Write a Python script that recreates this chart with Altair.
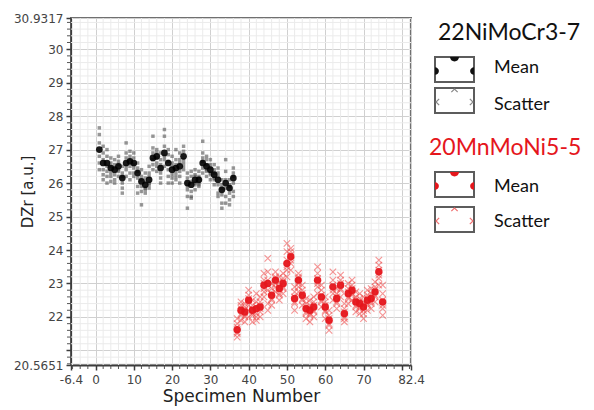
import altair as alt
import pandas as pd
import numpy as np

# ---------------- data ----------------
black_ids = list(range(1, 37))
black_mean = [27.0, 26.6, 26.6, 26.45, 26.4, 26.5, 26.15, 26.6, 26.65, 26.6,
              26.3, 26.05, 25.95, 26.1, 26.75, 26.8, 26.45, 26.9, 26.6, 26.4,
              26.45, 26.5, 26.8, 26.0, 25.95, 26.1, 26.1, 26.6, 26.5, 26.4,
              26.25, 26.1, 25.8, 26.0, 25.85, 26.15]
black_scatter = [
    [27.65, 27.45, 27.2, 26.8, 26.6, 26.4],
    [27.1, 26.9, 26.7, 26.4, 26.25, 26.1],
    [27.0, 26.8, 26.5, 26.35, 26.2, 26.0],
    [26.75, 26.6, 26.3, 26.2, 26.05, 26.5],
    [26.7, 26.55, 26.25, 26.1, 26.0, 26.45],
    [26.8, 26.65, 26.35, 26.2, 26.55, 26.4],
    [26.5, 26.3, 26.0, 25.85, 25.7, 26.2],
    [27.2, 26.9, 26.75, 26.4, 26.2, 26.5],
    [26.95, 26.8, 26.5, 26.3, 26.1, 26.7],
    [26.9, 26.75, 26.45, 26.3, 26.55, 26.2],
    [26.6, 26.45, 26.15, 25.9, 25.7, 26.35],
    [26.4, 26.2, 25.9, 25.75, 25.35, 26.1],
    [26.3, 26.15, 25.8, 25.7, 25.85, 26.05],
    [26.5, 26.3, 25.95, 25.85, 26.2, 26.0],
    [27.4, 27.05, 26.9, 26.55, 26.4, 26.7],
    [27.0, 26.9, 26.6, 26.5, 26.35, 26.75],
    [26.9, 26.7, 26.3, 26.15, 26.0, 26.55],
    [27.6, 27.4, 27.1, 26.7, 26.5, 26.8],
    [27.0, 26.85, 26.4, 26.2, 26.0, 26.65],
    [26.8, 26.6, 26.25, 26.0, 26.15, 26.5],
    [27.0, 26.7, 26.3, 26.1, 26.55, 26.2],
    [26.9, 26.7, 26.35, 26.2, 26.6, 26.0],
    [27.1, 26.95, 26.6, 26.4, 26.7, 26.5],
    [26.3, 26.15, 25.8, 25.6, 25.25, 25.9],
    [26.35, 26.2, 25.75, 25.55, 25.6, 26.05],
    [26.4, 26.25, 25.95, 25.8, 26.2, 26.0],
    [26.35, 26.2, 25.95, 25.9, 26.15, 26.0],
    [27.25, 26.9, 26.75, 26.45, 26.3, 26.65],
    [26.8, 26.7, 26.35, 26.2, 26.55, 26.4],
    [26.7, 26.55, 26.25, 26.1, 26.45, 26.3],
    [26.55, 26.4, 26.1, 25.95, 26.3, 26.15],
    [26.45, 26.3, 25.95, 25.7, 25.6, 26.2],
    [26.1, 25.95, 25.65, 25.4, 25.25, 25.85],
    [26.7, 26.35, 25.85, 25.6, 25.4, 26.1],
    [26.1, 25.95, 25.7, 25.5, 25.35, 25.9],
    [26.45, 26.3, 26.0, 25.75, 25.6, 26.2],
]

red_ids = list(range(37, 76))
red_mean = [21.62, 22.2, 22.15, 22.5, 22.2, 22.25, 22.3, 22.95, 23.0, 22.65,
            23.1, 22.85, 23.0, 23.6, 23.8, 22.55, 23.1, 22.65, 22.25, 22.2,
            22.3, 23.1, 22.6, 22.3, 21.9, 22.9, 22.55, 22.95, 22.1, 22.7,
            22.8, 22.45, 22.4, 22.3, 22.5, 22.55, 22.75, 23.35, 22.45]
red_scatter = [
    [21.95, 21.8, 21.5, 21.4, 21.7, 21.55],
    [22.45, 22.35, 22.05, 21.9, 22.25, 22.1],
    [22.4, 22.3, 22.0, 21.85, 22.2, 22.05],
    [22.8, 22.65, 22.35, 22.2, 22.55, 22.0],
    [22.5, 22.35, 22.05, 21.85, 22.25, 22.1],
    [22.7, 22.45, 22.1, 21.9, 22.3, 22.0],
    [22.6, 22.45, 22.15, 22.0, 22.35, 22.25],
    [23.3, 23.1, 22.75, 22.6, 23.0, 22.85],
    [23.75, 23.35, 22.8, 22.4, 22.2, 23.1],
    [23.0, 22.85, 22.5, 22.35, 22.7, 22.55],
    [23.35, 23.2, 22.9, 22.75, 23.15, 23.0],
    [23.2, 23.05, 22.7, 22.5, 22.9, 22.65],
    [23.3, 23.15, 22.85, 22.7, 23.05, 22.9],
    [24.2, 23.95, 23.4, 23.2, 23.7, 23.5],
    [24.05, 23.95, 23.6, 23.4, 23.85, 23.7],
    [22.9, 22.75, 22.4, 22.2, 22.6, 22.45],
    [23.3, 23.2, 22.9, 22.75, 23.15, 23.0],
    [22.95, 22.8, 22.5, 22.35, 22.7, 22.55],
    [22.55, 22.4, 22.1, 21.95, 22.3, 22.15],
    [22.5, 22.35, 22.05, 21.85, 22.25, 22.1],
    [22.6, 22.45, 22.15, 22.0, 22.35, 22.2],
    [23.5, 23.3, 22.9, 22.7, 23.15, 23.0],
    [22.95, 22.8, 22.45, 22.3, 22.65, 22.5],
    [22.6, 22.45, 22.15, 21.95, 22.35, 22.2],
    [22.2, 22.05, 21.75, 21.6, 21.95, 21.8],
    [23.35, 23.1, 22.7, 22.5, 22.95, 22.8],
    [22.85, 22.7, 22.4, 22.25, 22.6, 22.45],
    [23.25, 23.1, 22.8, 22.6, 23.0, 22.85],
    [22.4, 22.25, 21.95, 21.85, 22.15, 22.0],
    [23.0, 22.85, 22.55, 22.4, 22.75, 22.6],
    [23.1, 22.95, 22.65, 22.5, 22.85, 22.7],
    [22.75, 22.6, 22.3, 22.15, 22.5, 22.35],
    [22.7, 22.55, 22.25, 22.1, 22.45, 22.3],
    [22.6, 22.45, 22.1, 21.95, 22.35, 22.2],
    [22.8, 22.65, 22.35, 22.2, 22.55, 22.4],
    [22.85, 22.7, 22.4, 22.25, 22.6, 22.45],
    [23.05, 22.9, 22.6, 22.45, 22.8, 22.65],
    [23.7, 23.55, 23.15, 22.95, 23.4, 23.25],
    [22.95, 22.7, 22.25, 22.05, 22.5, 22.35],
]

x_ticks = [-6.4, 0, 10, 20, 30, 40, 50, 60, 70, 80, 82.4]
y_ticks = [20.5651, 21, 22, 23, 24, 25, 26, 27, 28, 29, 30, 30.9317]
X_MIN, X_MAX = -6.4, 82.4
Y_MIN, Y_MAX = 20.5651, 30.9317
x_minor = [v for v in np.arange(-6, 82.01, 2).round(4) if v % 10 != 0]
y_minor = [v for v in np.arange(20.6, 30.91, 0.2).round(4) if abs(v - round(v)) > 1e-6]

title_black = "22NiMoCr3-7"
title_red = "20MnMoNi5-5"
RED = "#e5161c"

# ---------------- tables ----------------
mean_black_df = pd.DataFrame({"n": black_ids, "v": black_mean})
mean_red_df = pd.DataFrame({"n": red_ids, "v": red_mean})
sc_black_df = pd.DataFrame([{"n": i, "v": v} for i, vals in zip(black_ids, black_scatter) for v in vals])
sc_red_df = pd.DataFrame([{"n": i, "v": v} for i, vals in zip(red_ids, red_scatter) for v in vals])
xminor_df = pd.DataFrame({"m": x_minor})
yminor_df = pd.DataFrame({"m": y_minor})
one = pd.DataFrame({"k": [0]})

W, H = 340, 347

xs = alt.Scale(domain=[X_MIN, X_MAX], nice=False, zero=False)
ys = alt.Scale(domain=[Y_MIN, Y_MAX], nice=False, zero=False)
xaxis = alt.Axis(values=x_ticks, format=".6~g", title="Specimen Number",
                 labelExpr="datum.value == 80 ? '' : replace(datum.label, '\u2212', '-')",
                 labelOverlap=False, labelFlush=False, labelPadding=4,
                 titleFont="DejaVu Sans", titleFontSize=17, titleFontWeight="normal",
                 titleColor="#222", titlePadding=3)
yaxis = alt.Axis(values=y_ticks, format=".6~g", title="DZr [a.u.]",
                 labelExpr="datum.value == 21 ? '' : datum.label",
                 labelOverlap=False, labelFlush=False,
                 titleFont="DejaVu Sans", titleFontSize=15, titleFontWeight="normal",
                 titleColor="#222", titleX=-44, titleY=H / 2, titleBaseline="middle",
                 titleAlign="center", titleAngle=-90)


def X(f):
    return alt.X(f, type="quantitative", scale=xs, axis=xaxis)


def Y(f):
    return alt.Y(f, type="quantitative", scale=ys, axis=yaxis)


layers = []
# minor grid
layers.append(alt.Chart(xminor_df).mark_rule(color="#ebebeb", strokeWidth=1).encode(
    x=X("m"), y=alt.value(0), y2=alt.value(H)))
layers.append(alt.Chart(yminor_df).mark_rule(color="#ebebeb", strokeWidth=1).encode(
    y=Y("m"), x=alt.value(0), x2=alt.value(W)))
# minor ticks
layers.append(alt.Chart(xminor_df).mark_rule(color="#555", strokeWidth=1).encode(
    x=X("m"), y=alt.value(H + 1), y2=alt.value(H + 4)))
layers.append(alt.Chart(yminor_df).mark_rule(color="#555", strokeWidth=1).encode(
    y=Y("m"), x=alt.value(-4), x2=alt.value(-1)))

# scatter
layers.append(alt.Chart(sc_black_df).mark_point(shape="square", filled=True, size=12,
                                                color="#444", opacity=0.55).encode(
    x=X("n"), y=Y("v")))
layers.append(alt.Chart(sc_red_df).mark_point(shape="M-1,-1L1,1M-1,1L1,-1", filled=False,
                                              size=42, color="#f05050", strokeWidth=1.1,
                                              opacity=0.6).encode(
    x=X("n"), y=Y("v")))
# means
layers.append(alt.Chart(mean_black_df).mark_point(shape="circle", filled=True, size=45,
                                                  color="#000", opacity=0.9).encode(
    x=X("n"), y=Y("v")))
layers.append(alt.Chart(mean_red_df).mark_point(shape="circle", filled=True, size=55,
                                                color=RED, opacity=0.95).encode(
    x=X("n"), y=Y("v")))

# ---------------- legend ----------------
HALF_DOWN = "M-1,0A1,1,0,0,0,1,0Z"
HALF_RIGHT = "M0,-1A1,1,0,0,1,0,1Z"
HALF_LEFT = "M0,-1A1,1,0,0,0,0,1Z"
X_DOWN = "M-1,1L0,0L1,1"
X_RIGHT = "M1,-1L0,0L1,1"
X_LEFT = "M-1,-1L0,0L-1,1"


def txt(s, x, y, size, color="#111", font="Lato"):
    return alt.Chart(one).mark_text(text=s, align="left", baseline="middle", font=font,
                                    fontSize=size, color=color).encode(
        x=alt.value(x), y=alt.value(y))


def box(y0, y1):
    return alt.Chart(one).mark_rect(fill="white", stroke="#5c5c5c", strokeWidth=2).encode(
        x=alt.value(364), x2=alt.value(403), y=alt.value(y0), y2=alt.value(y1))


def sym(shape, x, y, color, size, filled=True, sw=1.2):
    return alt.Chart(one).mark_point(shape=shape, filled=filled, size=size, color=color,
                                     strokeWidth=sw, opacity=1).encode(
        x=alt.value(x), y=alt.value(y))


for color, y_title, title, yb1, yb2, ym, ys_, scol in [
    ("#111", 15, title_black, 39, 70, 50, 87, "#888"),
    (RED, 130, title_red, 154, 189, 169, 204, "#f07070"),
]:
    layers.append(txt(title, 367 if color == "#111" else 358, y_title, 23, color))
    layers.append(box(yb1, yb1 + 25))
    layers.append(sym(HALF_DOWN, 383.5, yb1, color, 80))
    layers.append(sym(HALF_RIGHT, 364, yb1 + 14, color, 60))
    layers.append(sym(HALF_LEFT, 403, yb1 + 14, color, 60))
    layers.append(box(yb2, yb2 + 25))
    layers.append(sym(X_DOWN, 383.5, yb2 + 1, scol, 40, filled=False))
    layers.append(sym(X_RIGHT, 365, yb2 + 14, scol, 40, filled=False))
    layers.append(sym(X_LEFT, 402, yb2 + 14, scol, 40, filled=False))
    layers.append(txt("Mean", 423, ym, 18))
    layers.append(txt("Scatter", 423, ys_, 18))

chart = alt.layer(*layers).properties(
    width=W, height=H,
    autosize=alt.AutoSizeParams(type="none"),
    padding={"left": 71, "top": 18, "right": 183, "bottom": 45},
    background="white",
).configure_view(
    stroke="#707070", strokeWidth=2
).configure_axis(
    domainColor="#3c3c3c", domainWidth=2, tickColor="#3c3c3c", tickSize=5, tickWidth=1.5,
    gridColor="#d0d0d0", gridWidth=1, labelFont="DejaVu Sans", labelFontSize=12,
    labelColor="#444", labelPadding=3,
)

chart.save("out.html", embed_options={"renderer": "svg", "actions": False})
